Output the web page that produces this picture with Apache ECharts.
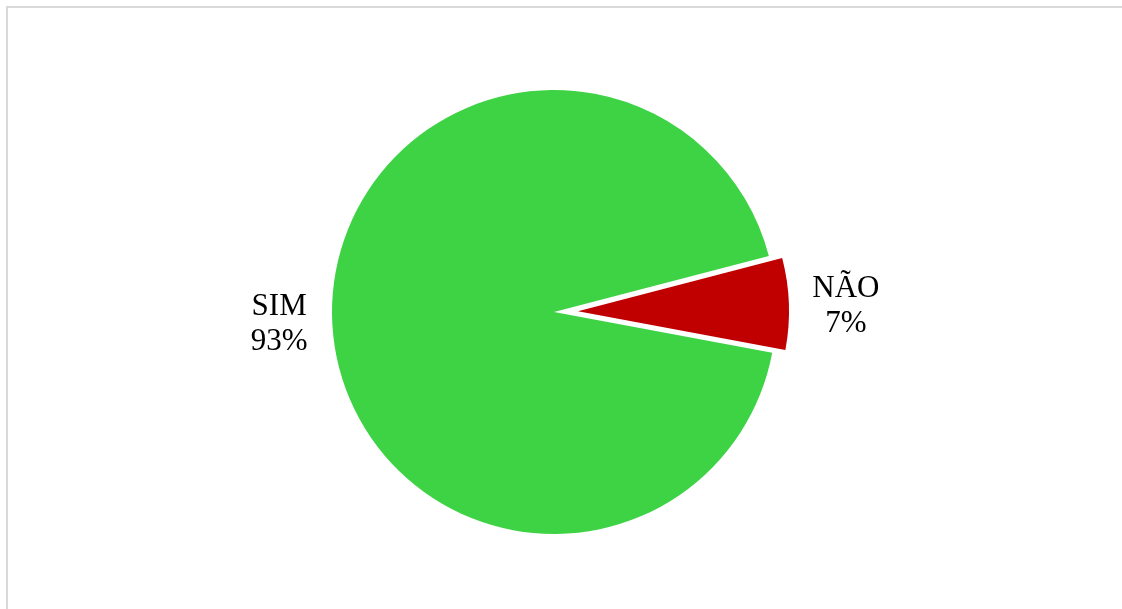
<!DOCTYPE html>
<html>
<head>
<meta charset="utf-8">
<script src="https://cdn.jsdelivr.net/npm/echarts@6/dist/echarts.min.js"></script>
<style>
  html, body { margin: 0; padding: 0; background: #fff; }
  #main { width: 1122px; height: 609px; }
</style>
</head>
<body>
<div id="main"></div>
<script>
var categories = ['SIM', 'NÃO'];
var values = [93, 7];
var colors = ['#3dd345', '#c00000'];

var mychart = echarts.init(document.getElementById('main'));

function labelStyle(pad) {
    return {
        show: true,
        position: 'outside',
        formatter: '{t|{b}}\n{t|{d}%}',
        padding: pad,
        rich: {
            t: {
                width: 72,
                align: 'center',
                fontFamily: '"Liberation Serif", "Times New Roman", serif',
                fontSize: 31,
                lineHeight: 35,
                color: '#000'
            }
        }
    };
}

// one series per slice so the exploded slice can have its own radius
function buildData(showIndex, pad) {
    return categories.map(function (name, i) {
        var item = { name: name, value: values[i] };
        if (i === showIndex) {
            item.itemStyle = { color: colors[i] };
            item.label = labelStyle(pad);
            if (i === 1) item.selected = true;
        } else {
            item.itemStyle = { color: 'rgba(0,0,0,0)' };
            item.label = { show: false };
        }
        return item;
    });
}

var option = {
    animation: false,
    graphic: [{
        type: 'rect',
        shape: { x: 7, y: 7, width: 1200, height: 700 },
        style: { fill: 'none', stroke: '#d9d9d9', lineWidth: 2 },
        silent: true
    }],
    series: [
        {
            type: 'pie',
            center: [554, 312],
            radius: [0, 222],
            startAngle: -10.6,
            clockwise: true,
            avoidLabelOverlap: false,
            percentPrecision: 0,
            labelLine: { show: false, length: 6, length2: 6 },
            emphasis: { disabled: true },
            data: buildData(0, [9, 0, 0, 0])
        },
        {
            type: 'pie',
            center: [554, 312],
            radius: [0, 211],
            startAngle: -10.6,
            clockwise: true,
            selectedMode: 'single',
            selectedOffset: 24,
            avoidLabelOverlap: false,
            percentPrecision: 0,
            labelLine: { show: false, length: 6, length2: 10 },
            emphasis: { disabled: true },
            data: buildData(1, [6, 0, 0, 0])
        }
    ]
};

mychart.setOption(option);
</script>
</body>
</html>
